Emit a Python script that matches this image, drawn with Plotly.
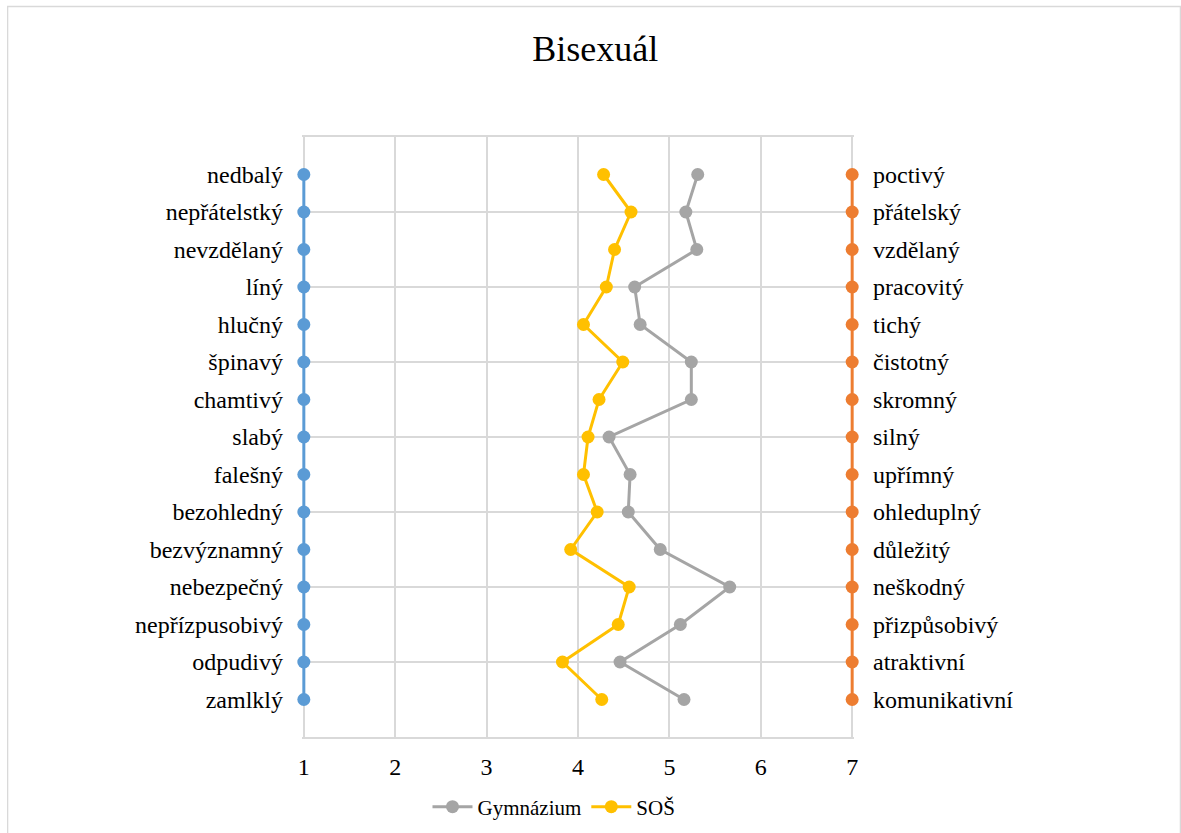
import plotly.graph_objects as go

# Semantic differential pairs (negative pole on the left, positive on the right)
left_labels = ["nedbalý", "nepřátelstký", "nevzdělaný", "líný", "hlučný", "špinavý",
               "chamtivý", "slabý", "falešný", "bezohledný", "bezvýznamný",
               "nebezpečný", "nepřízpusobivý", "odpudivý", "zamlklý"]
right_labels = ["poctivý", "přátelský", "vzdělaný", "pracovitý", "tichý", "čistotný",
                "skromný", "silný", "upřímný", "ohleduplný", "důležitý",
                "neškodný", "přizpůsobivý", "atraktivní", "komunikativní"]

# Mean ratings on the 1–7 scale
gymnazium = [5.31, 5.18, 5.30, 4.62, 4.68, 5.24, 5.24, 4.34, 4.57, 4.55,
             4.90, 5.66, 5.12, 4.46, 5.16]
sos = [4.28, 4.58, 4.40, 4.31, 4.06, 4.49, 4.23, 4.11, 4.06, 4.21,
       3.92, 4.56, 4.44, 3.83, 4.26]

scale_ticks = [1, 2, 3, 4, 5, 6, 7]
scale_min, scale_max = 1, 7

n = len(left_labels)
rows = [n - i for i in range(n)]  # first pair at the top
row_range = [0, n + 1]

FONT = "Liberation Serif, Times New Roman, serif"
GRID = "#D9D9D9"

# small padding so the end-point lines at 1 and 7 are not clipped in half
pad = 0.02
W, H = 1181, 833
px_per_unit = 548 / (scale_max - scale_min)
left_m = 304 - pad * px_per_unit
right_m = 329 - pad * px_per_unit
plot_w = W - left_m - right_m

fig = go.Figure()

# Scale end-point anchors
fig.add_trace(go.Scatter(
    x=[scale_min] * n, y=rows, mode="lines+markers", cliponaxis=False,
    line=dict(color="#5B9BD5", width=3), marker=dict(size=13, color="#5B9BD5"),
    showlegend=False, hoverinfo="skip"))
fig.add_trace(go.Scatter(
    x=[scale_max] * n, y=rows, mode="lines+markers", yaxis="y2", cliponaxis=False,
    line=dict(color="#ED7D31", width=3), marker=dict(size=13, color="#ED7D31"),
    showlegend=False, hoverinfo="skip"))

fig.add_trace(go.Scatter(
    x=gymnazium, y=rows, mode="lines+markers", name="Gymnázium", cliponaxis=False,
    line=dict(color="#A5A5A5", width=3), marker=dict(size=13, color="#A5A5A5")))
fig.add_trace(go.Scatter(
    x=sos, y=rows, mode="lines+markers", name="SOŠ", cliponaxis=False,
    line=dict(color="#FFC000", width=3), marker=dict(size=13, color="#FFC000")))


def px_to_paper_x(px):
    return (px - left_m) / plot_w


def px_to_paper_y(py):
    return (737 - py) / 600


fig.update_layout(
    width=W, height=H,
    margin=dict(l=left_m, r=right_m, t=137, b=96, autoexpand=False),
    paper_bgcolor="white", plot_bgcolor="white",
    font=dict(family=FONT, size=24, color="black"),
    title=dict(text="Bisexuál", x=0.504, xanchor="center",
               y=0.942, yanchor="middle", yref="container",
               font=dict(family=FONT, size=36, color="black")),
    xaxis=dict(range=[scale_min - pad, scale_max + pad], tickvals=scale_ticks,
               automargin=False, showgrid=True, gridcolor=GRID, gridwidth=1.5,
               showline=True, linecolor=GRID, linewidth=1.5, mirror=True,
               zeroline=False, ticks="", ticklabelstandoff=7,
               tickfont=dict(family=FONT, size=24)),
    yaxis=dict(range=row_range, tickvals=rows, ticktext=left_labels, automargin=False,
               showgrid=False, zeroline=False, ticks="", ticklabelstandoff=18,
               minor=dict(dtick=2, tick0=0, showgrid=True, gridcolor=GRID, gridwidth=1.5),
               tickfont=dict(family=FONT, size=24)),
    yaxis2=dict(range=row_range, overlaying="y", side="right", automargin=False,
                tickvals=rows, ticktext=right_labels, showgrid=False, zeroline=False,
                ticks="", ticklabelstandoff=18, tickfont=dict(family=FONT, size=24)),
    legend=dict(orientation="h", x=px_to_paper_x(554), xanchor="center",
                y=px_to_paper_y(807), yanchor="middle",
                font=dict(family=FONT, size=21), bgcolor="rgba(0,0,0,0)",
                itemwidth=40, tracegroupgap=0),
    shapes=[dict(type="rect", xref="paper", yref="paper",
                 x0=px_to_paper_x(8), x1=px_to_paper_x(1180),
                 y0=px_to_paper_y(836), y1=px_to_paper_y(6.5),
                 line=dict(color=GRID, width=1.3), fillcolor="rgba(0,0,0,0)",
                 layer="below")],
)

fig.write_html("out.html")
